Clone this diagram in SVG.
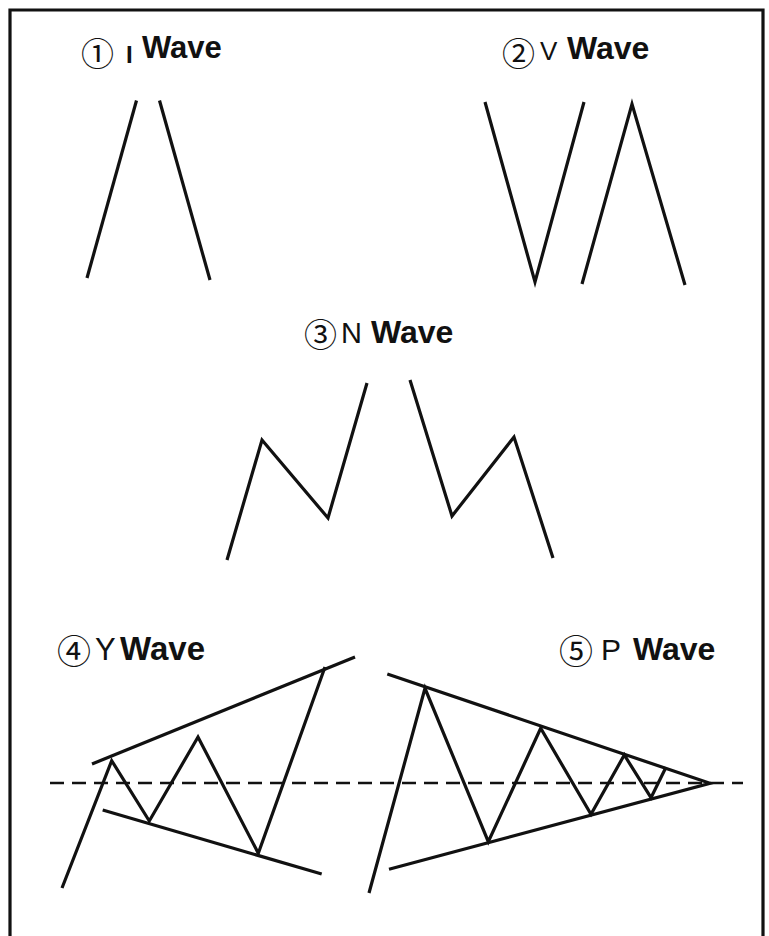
<svg xmlns="http://www.w3.org/2000/svg" width="769" height="936" viewBox="0 0 769 936">
<style>
.ln{fill:none;stroke:#111;stroke-width:3.2;stroke-linejoin:miter;stroke-linecap:butt}
.dash{fill:none;stroke:#111;stroke-width:2.6;stroke-dasharray:14 8}
.w{font-family:"Liberation Sans",Arial,sans-serif;font-weight:bold;fill:#111}
.l{font-family:"Liberation Sans",Arial,sans-serif;fill:#111}
.c{font-family:"Noto Sans CJK JP","DejaVu Sans",sans-serif;fill:#111}
</style>
<rect width="769" height="936" fill="#fff"/>
<path class="ln" d="M10,940 V10 H763 V940" stroke-width="3"/>

<g id="wave-i">
<text class="c" x="81" y="66" font-size="33">①</text>
<text class="l" x="126" y="63" font-size="24" font-weight="bold">I</text>
<text class="w" x="142" y="58" font-size="31">Wave</text>
<path class="ln" d="M87,278 L136.5,100.5"/>
<path class="ln" d="M159.5,100.5 L210,280"/>
</g>

<g id="wave-v">
<text class="c" x="502" y="66" font-size="33">②</text>
<text class="l" x="540" y="60" font-size="26">V</text>
<text class="w" x="567" y="59" font-size="32">Wave</text>
<path class="ln" d="M485,102 L535,282 L584,102"/>
<path class="ln" d="M582,284 L632,104 L685,285"/>
</g>

<g id="wave-n">
<text class="c" x="304" y="347" font-size="33">③</text>
<text class="l" x="341" y="343" font-size="29">N</text>
<text class="w" x="371" y="343" font-size="32">Wave</text>
<path class="ln" d="M227,560 L262,440 L328,518 L367,383"/>
<path class="ln" d="M410,380 L452,516 L514,437 L553,558"/>
</g>

<g id="wave-y">
<text class="c" x="57" y="664" font-size="34">④</text>
<text class="l" x="95" y="660" font-size="31">Y</text>
<text class="w" x="120" y="660" font-size="33">Wave</text>
<path class="ln" d="M62,888 L111.7,760.7 L149.3,821 L198,737 L258.3,853.3 L325,667"/>
<path class="ln" d="M92,764 L355,657"/>
<path class="ln" d="M102.7,810 L321.7,874"/>
</g>

<g id="wave-p">
<text class="c" x="559" y="664" font-size="34">⑤</text>
<text class="l" x="601" y="660" font-size="30">P</text>
<text class="w" x="633" y="660" font-size="32">Wave</text>
<path class="ln" d="M369,893 L425,688.3 L488.3,841.7 L540.7,728.3 L591,814.3 L624.3,755 L651,797.7 L666,767.3"/>
<path class="ln" d="M387.3,674 L710,783.3 L389,869.3"/>
</g>

<g id="connectors">
<path class="dash" d="M50,783 L743,783"/>
</g>
</svg>
